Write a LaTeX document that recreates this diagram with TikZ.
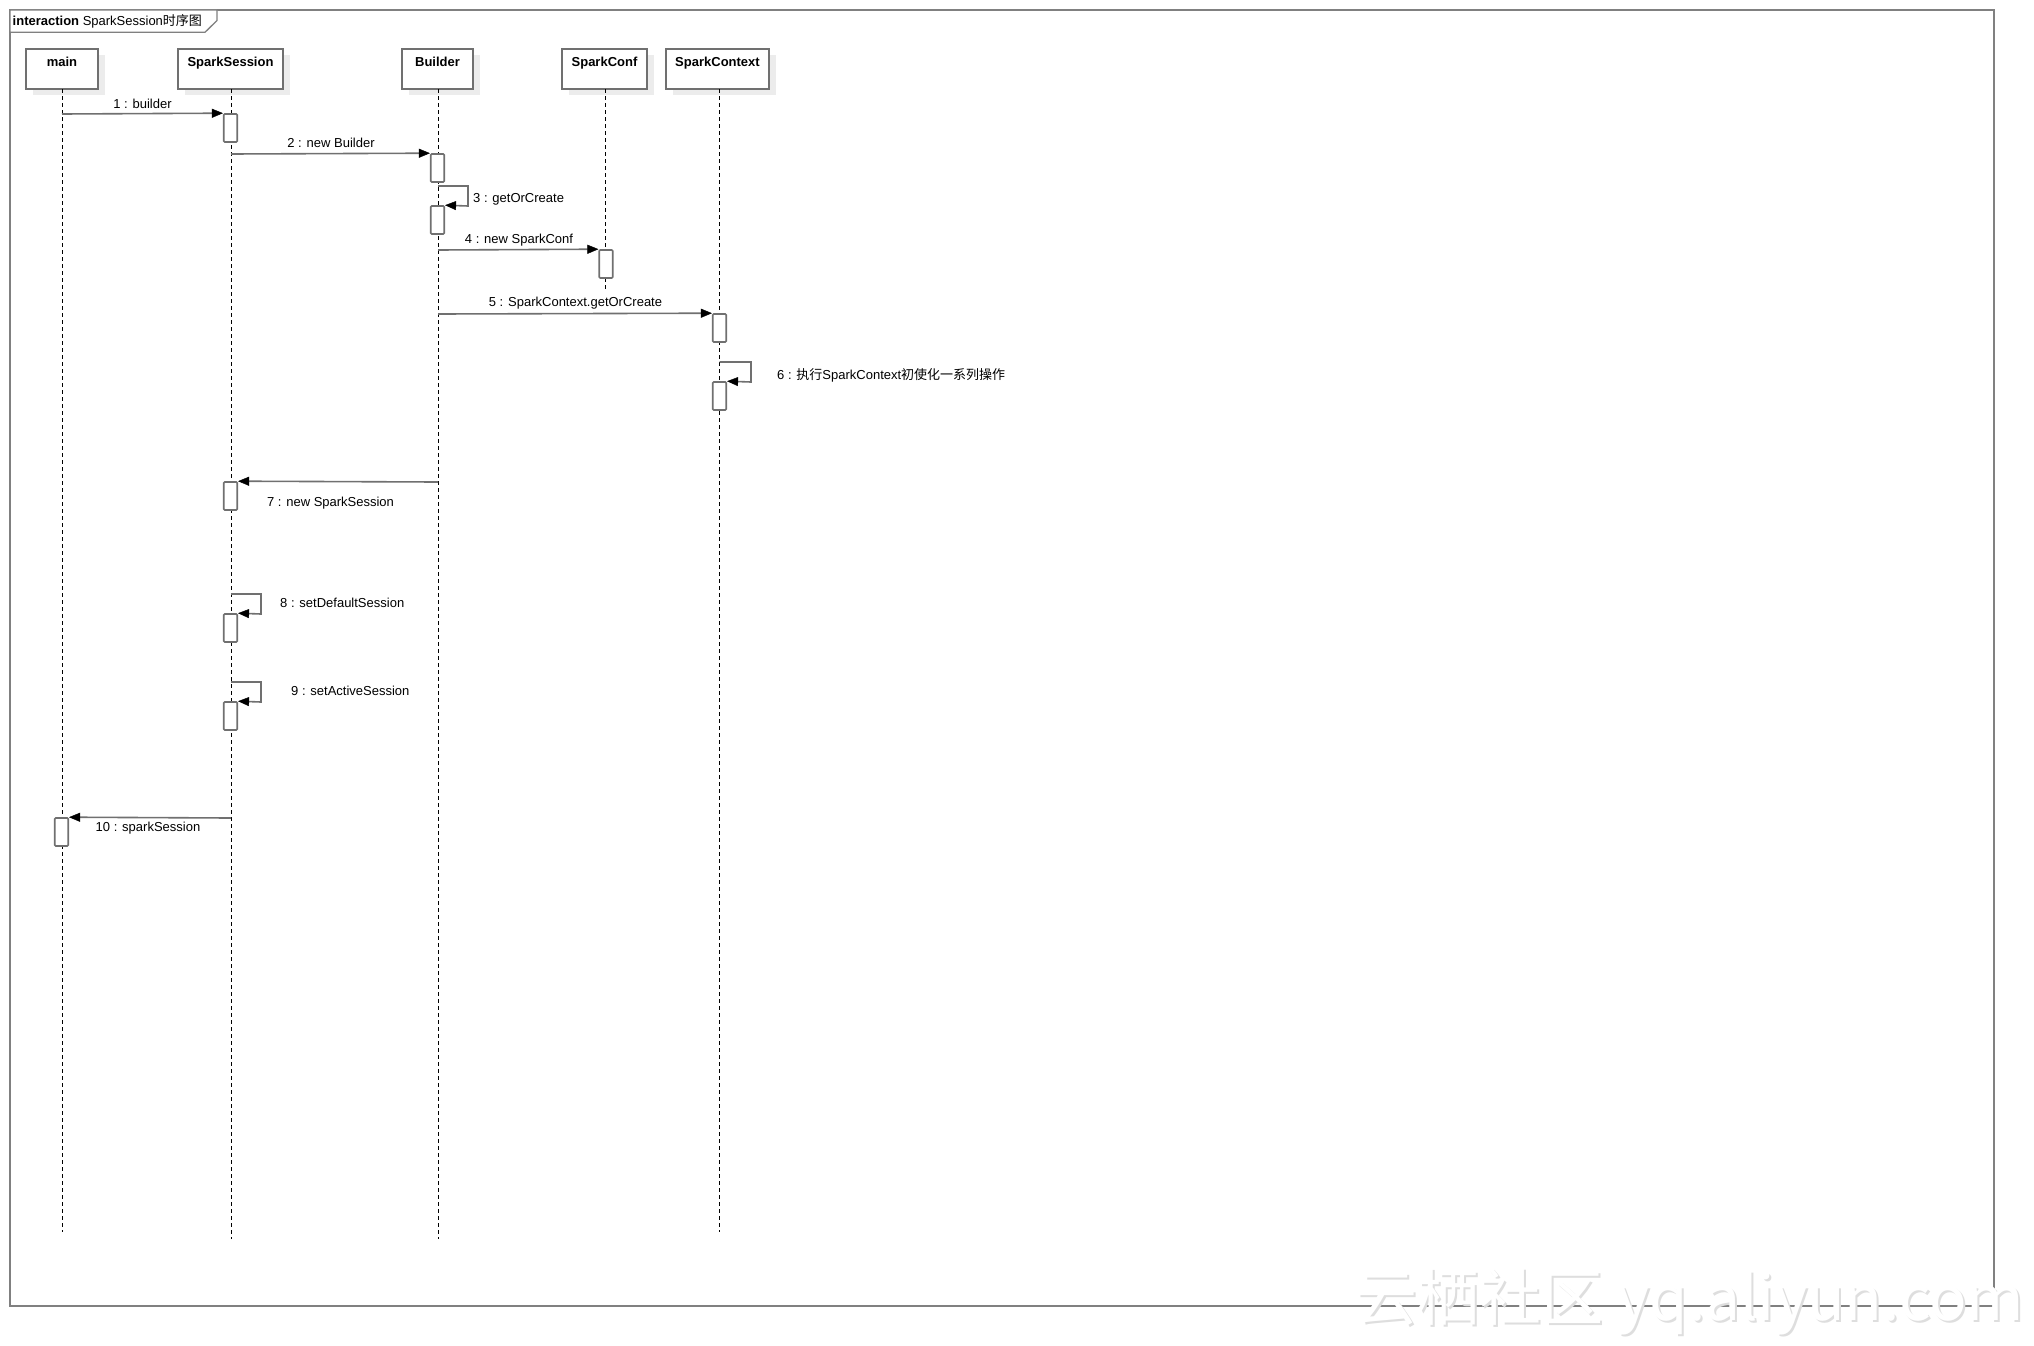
\documentclass[tikz,border=0pt]{standalone}
\usepackage{fontspec}
\setmainfont{Liberation Sans}
\newfontfamily\cjk{Noto Sans CJK SC}
\usetikzlibrary{arrows.meta,shadows}
\definecolor{lgray}{RGB}{112,112,112}
\definecolor{shadowc}{RGB}{236,236,236}
\definecolor{framec}{RGB}{128,128,128}
\begin{document}
\begin{tikzpicture}[x=1pt,y=-1pt,
  every node/.style={font=\fontsize{13}{15}\selectfont},
  head/.style={draw=lgray, line width=1.6pt, fill=white, inner sep=0pt,
    text height=17.7pt, text depth=22.3pt, font=\bfseries\fontsize{13}{15}\selectfont,
    drop shadow={shadow xshift=7pt, shadow yshift=-6pt, fill=shadowc, opacity=1}},
  life/.style={black, line width=0.9pt, dash pattern=on 4pt off 3pt},
  act/.style={draw=lgray, line width=1.6pt, fill=white, inner sep=0pt,
    minimum width=13.5pt, minimum height=28pt, rounded corners=1pt},
  msg/.style={lgray, line width=1.6pt,
    -{Triangle[length=11pt,width=9pt,color=black,fill=black,line width=0.4pt]}},
  lbl/.style={inner sep=0pt},
  frame/.style={draw=framec, line width=1.8pt}]
\fill[white] (0,0) rectangle (2034,1346);
\useasboundingbox (0,0) rectangle (2034,1346);

% frame
\draw[frame] (10,10) rectangle (1994,1306);
\draw[draw=framec, line width=1.3pt, fill=white] (10,10) -- (217,10) -- (217,20.5) -- (205,32.3) -- (10,32.3) -- cycle;
\node[lbl, anchor=west] (title) at (12.5,21.5) {\textbf{interaction} SparkSession{\cjk 时序图}};

% heads
\node[head, minimum width=72pt]  (main) at (62,69)    {main};
\node[head, minimum width=105pt] (ss)   at (230.5,69) {SparkSession};
\node[head, minimum width=71pt]  (bld)  at (437.5,69) {Builder};
\node[head, minimum width=85pt]  (conf) at (604.5,69) {SparkConf};
\node[head, minimum width=103pt] (ctx)  at (717.5,69) {SparkContext};

% lifeline ends
\coordinate (mainE) at (62,1232);
\coordinate (ssE)   at (231,1239);
\coordinate (bldE)  at (438,1239);
\coordinate (confE) at (605.7,290);
\coordinate (ctxE)  at (719.5,1232);
\draw[life] (62,89) -- (mainE);
\draw[life] (231,89) -- (ssE);
\draw[life] (438,89) -- (bldE);
\draw[life] (605.7,89) -- (confE);
\draw[life] (719.5,89) -- (ctxE);

% activations
\node[act] (a1)  at (230.5,128) {};
\node[act] (a2)  at (437.5,168) {};
\node[act] (a3)  at (437.5,220) {};
\node[act] (a4)  at (606,264) {};
\node[act] (a5)  at (719.5,328) {};
\node[act] (a6)  at (719.5,396) {};
\node[act] (a7)  at (230.5,496) {};
\node[act] (a8)  at (230.5,628) {};
\node[act] (a9)  at (230.5,716) {};
\node[act] (a10) at (61.5,832) {};

% message start points
\coordinate (m1s) at (62,114);
\coordinate (m2s) at (231,154);
\coordinate (m3s) at (438,186);
\coordinate (m3c) at (468,206);
\coordinate (m4s) at (438,250);
\coordinate (m5s) at (438,314);
\coordinate (m6s) at (719.5,362);
\coordinate (m6c) at (751,382);
\coordinate (m7s) at (438,482);
\coordinate (m8s) at (231,594);
\coordinate (m8c) at (261,614);
\coordinate (m9s) at (231,682);
\coordinate (m9c) at (261,702);
\coordinate (m10s) at (231,818);

\draw[msg] (m1s) -- (a1.north west);
\draw[msg] (m2s) -- (a2.north west);
\draw[msg] (m3s) -| (m3c) -- (a3.north east);
\draw[msg] (m4s) -- (a4.north west);
\draw[msg] (m5s) -- (a5.north west);
\draw[msg] (m6s) -| (m6c) -- (a6.north east);
\draw[msg] (m7s) -- (a7.north east);
\draw[msg] (m8s) -| (m8c) -- (a8.north east);
\draw[msg] (m9s) -| (m9c) -- (a9.north east);
\draw[msg] (m10s) -- (a10.north east);

% labels
\node[lbl] (l1) at (142.5,104) {1 : builder};
\node[lbl] (l2) at (331,143) {2 : new Builder};
\node[lbl, anchor=west] (l3) at (473,199.5) {3 : getOrCreate};
\node[lbl] (l4) at (519,240) {4 : new SparkConf};
\node[lbl] (l5) at (575.5,303.5) {5 : SparkContext.getOrCreate};
\node[lbl, anchor=west] (l6) at (777,375.5) {6 : {\cjk 执行}SparkContext{\cjk 初使化一系列操作}};
\node[lbl] (l7) at (330.5,503) {7 : new SparkSession};
\node[lbl, anchor=west] (l8) at (280,603) {8 : setDefaultSession};
\node[lbl, anchor=west] (l9) at (291,691) {9 : setActiveSession};
\node[lbl] (l10) at (148,828) {10 : sparkSession};

% watermark
\node[lbl, text=black!13] (wms) at (1692,1304) {\fontsize{62}{66}\selectfont\cjk 云栖社区 yq.aliyun.com};
\node[lbl, text=white] (wm) at (1690,1302) {\fontsize{62}{66}\selectfont\cjk 云栖社区 yq.aliyun.com};
\end{tikzpicture}
\end{document}
